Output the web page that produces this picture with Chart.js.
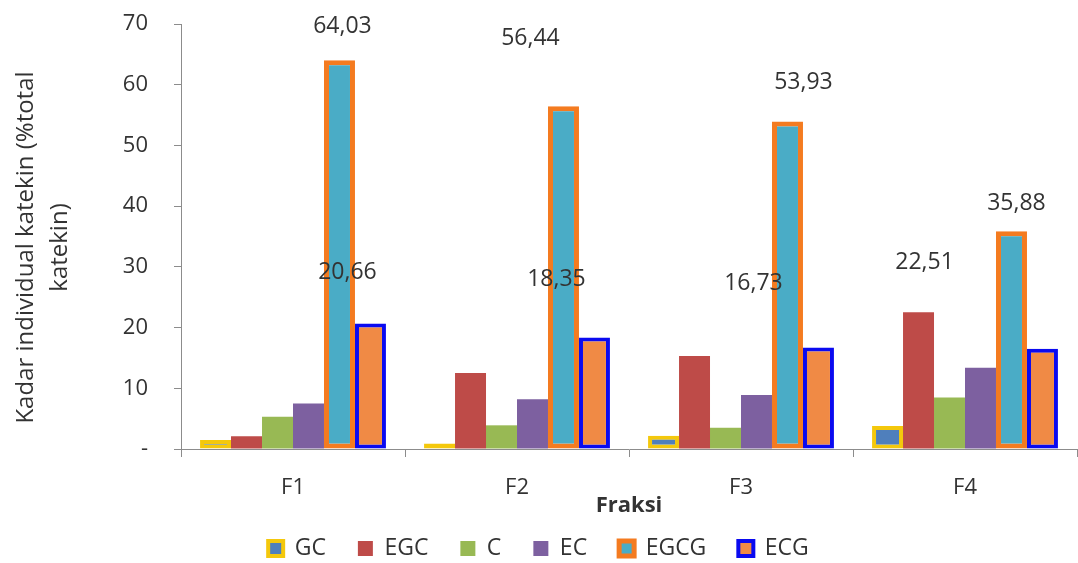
<!DOCTYPE html>
<html>
<head>
<meta charset="utf-8">
<script src="https://cdn.jsdelivr.net/npm/chart.js@4/dist/chart.umd.min.js"></script>
<style>
  html, body { margin: 0; padding: 0; background: #ffffff; }
  canvas { display: block; }
</style>
</head>
<body>
<canvas id="chart" width="1078" height="563"></canvas>
<script>
// Fractions on the x axis
const categories = ['F1', 'F2', 'F3', 'F4'];

// Individual catechin content per fraction (% of total catechin)
const gc   = [1.5, 0.9, 2.2, 3.8];
const egc  = [2.1, 12.5, 15.3, 22.51];
const c    = [5.3, 3.9, 3.5, 8.5];
const ec   = [7.5, 8.2, 8.9, 13.4];
const egcg = [64.03, 56.44, 53.93, 35.88];
const ecg  = [20.66, 18.35, 16.73, 16.5];

// Y axis range and step
const yMin = 0;
const yMax = 70;
const yStep = 10;

const FONT = "'Open Sans', 'DejaVu Sans', sans-serif";
const TEXT = '#333333';
const AXIS = '#8c8c8c';

// Value labels shown on selected bars: dataset index, category index,
// and the pixel shift of the label from the top centre of its bar.
const valueLabels = [
  { ds: 4, i: 0, dx: 3,   dy: -34 },
  { ds: 4, i: 1, dx: -33, dy: -68 },
  { ds: 4, i: 2, dx: 16,  dy: -39 },
  { ds: 4, i: 3, dx: 5,   dy: -28 },
  { ds: 5, i: 0, dx: -23, dy: -51 },
  { ds: 5, i: 1, dx: -38, dy: -58 },
  { ds: 5, i: 2, dx: -65, dy: -64 },
  { ds: 1, i: 3, dx: 6,   dy: -50 }
];

const fmt = v => v.toFixed(2).replace('.', ',');

const valueLabelPlugin = {
  id: 'valueLabels',
  afterDatasetsDraw(chart) {
    const ctx = chart.ctx;
    ctx.save();
    ctx.font = `23px ${FONT}`;
    ctx.fillStyle = TEXT;
    ctx.textAlign = 'center';
    ctx.textBaseline = 'middle';
    valueLabels.forEach(l => {
      const bar = chart.getDatasetMeta(l.ds).data[l.i];
      const v = chart.data.datasets[l.ds].data[l.i];
      ctx.fillText(fmt(v), bar.x + l.dx, bar.y + l.dy);
    });
    ctx.restore();
  }
};

// Two-line rotated y axis title
const yTitleLines = ['Kadar individual katekin (%total', 'katekin)'];
const yTitlePlugin = {
  id: 'yTitle',
  afterDraw(chart) {
    const ctx = chart.ctx;
    const area = chart.chartArea;
    const cy = (area.top + area.bottom) / 2 + 11;
    ctx.save();
    ctx.font = `24px ${FONT}`;
    ctx.fillStyle = TEXT;
    ctx.textAlign = 'center';
    ctx.textBaseline = 'middle';
    const xs = [26, 60];
    yTitleLines.forEach((t, k) => {
      ctx.save();
      ctx.translate(xs[k], cy);
      ctx.rotate(-Math.PI / 2);
      ctx.fillText(t, 0, 0);
      ctx.restore();
    });
    ctx.restore();
  }
};

const series = (label, data, fill, border, bw) => ({
  label, data,
  backgroundColor: fill,
  borderColor: border,
  borderWidth: bw,
  borderSkipped: false
});

new Chart(document.getElementById('chart'), {
  type: 'bar',
  data: {
    labels: categories,
    datasets: [
      series('GC',   gc,   '#4f7fbc', '#f4c80c', 4),
      series('EGC',  egc,  '#be4b48', '#be4b48', 0),
      series('C',    c,    '#98b954', '#98b954', 0),
      series('EC',   ec,   '#7d60a0', '#7d60a0', 0),
      series('EGCG', egcg, '#4aacc6', '#f47b20', 5),
      series('ECG',  ecg,  '#f08a45', '#0a0af0', 4)
    ]
  },
  options: {
    responsive: false,
    animation: false,
    datasets: { bar: { categoryPercentage: 0.83, barPercentage: 1.0 } },
    layout: { padding: { left: 0, right: 1, top: 24, bottom: -7 } },
    plugins: {
      tooltip: { enabled: false },
      legend: {
        position: 'bottom',
        labels: {
          font: { family: FONT, size: 23 },
          color: TEXT,
          boxWidth: 15,
          boxHeight: 15,
          padding: 32
        }
      }
    },
    scales: {
      x: {
        afterFit: s => { s.height = 56; },
        grid: {
          offset: true,
          drawOnChartArea: false,
          drawTicks: true,
          tickLength: 8,
          color: AXIS
        },
        border: { display: true, color: AXIS, width: 1 },
        ticks: { font: { family: FONT, size: 22 }, color: TEXT, padding: 18 },
        title: {
          display: true,
          text: 'Fraksi',
          font: { family: FONT, size: 22, weight: 'bold' },
          color: TEXT,
          padding: { top: 0, bottom: -14 }
        }
      },
      y: {
        min: yMin,
        max: yMax,
        // fixed axis width; the outer label gap should not push the plot down
        afterFit: s => { s.width = 181; s.paddingTop = 0; s.paddingBottom = 0; },
        grid: {
          drawOnChartArea: false,
          drawTicks: true,
          tickLength: 7,
          color: AXIS
        },
        border: { display: true, color: AXIS, width: 1 },
        ticks: {
          stepSize: yStep,
          font: { family: FONT, size: 22 },
          color: TEXT,
          padding: 26,
          callback: v => (v === 0 ? '-' : v)
        }
      }
    }
  },
  plugins: [valueLabelPlugin, yTitlePlugin]
});
</script>
</body>
</html>
